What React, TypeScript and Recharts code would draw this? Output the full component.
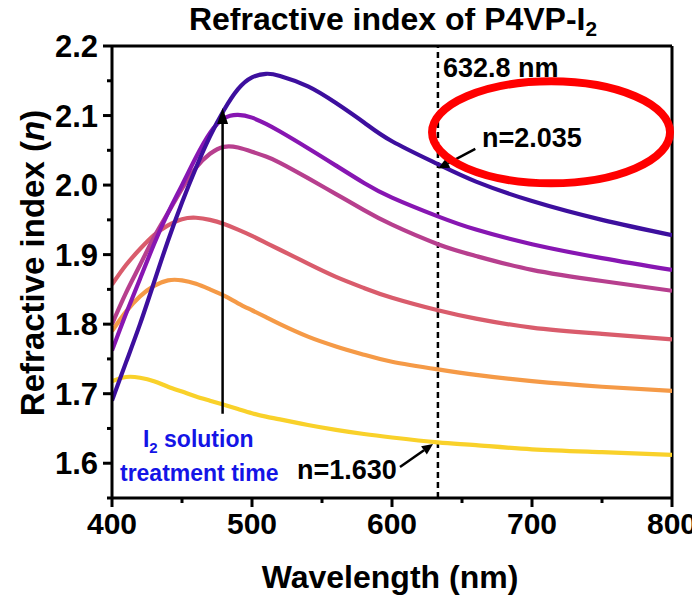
import React from 'react';
import { LineChart, Line, XAxis, YAxis, ReferenceLine, ReferenceDot, Label } from 'recharts';

const wavelengths = [400, 410, 420, 430, 440, 450, 460, 470, 480, 490, 500, 510, 520, 540, 560, 580, 600, 632.8, 660, 700, 750, 800];
const nYellow = [1.718, 1.724, 1.723, 1.718, 1.71, 1.703, 1.696, 1.69, 1.684, 1.678, 1.672, 1.667, 1.663, 1.655, 1.648, 1.642, 1.637, 1.63, 1.626, 1.62, 1.616, 1.612];
const nOrange = [1.79, 1.818, 1.84, 1.855, 1.863, 1.863, 1.858, 1.85, 1.841, 1.83, 1.82, 1.81, 1.8, 1.782, 1.768, 1.756, 1.746, 1.735, 1.727, 1.718, 1.71, 1.704];
const nCoral = [1.857, 1.885, 1.908, 1.928, 1.942, 1.951, 1.953, 1.95, 1.944, 1.936, 1.927, 1.917, 1.907, 1.887, 1.868, 1.852, 1.838, 1.82, 1.808, 1.795, 1.786, 1.778];
const nMagenta = [1.8, 1.845, 1.885, 1.925, 1.96, 1.995, 2.025, 2.045, 2.055, 2.054, 2.048, 2.041, 2.032, 2.01, 1.987, 1.964, 1.943, 1.915, 1.898, 1.878, 1.862, 1.848];
const nPurple = [1.762, 1.815, 1.865, 1.915, 1.96, 2.0, 2.04, 2.075, 2.096, 2.101, 2.097, 2.088, 2.077, 2.053, 2.028, 2.003, 1.982, 1.955, 1.936, 1.915, 1.895, 1.878];
const nIndigo = [1.69, 1.745, 1.8, 1.86, 1.92, 1.975, 2.025, 2.07, 2.108, 2.138, 2.155, 2.16, 2.157, 2.142, 2.118, 2.09, 2.063, 2.03, 2.005, 1.977, 1.95, 1.928];

const seriesKeys = ['yellow', 'orange', 'coral', 'magenta', 'purple', 'indigo'];
const seriesColors = ['#F9D12A', '#F59A47', '#D95C6C', '#B73F8E', '#8716B2', '#3D0F9E'];

const xTicks = [400, 450, 500, 550, 600, 650, 700, 750, 800];
const yTicks = [1.55, 1.6, 1.65, 1.7, 1.75, 1.8, 1.85, 1.9, 1.95, 2.0, 2.05, 2.1, 2.15, 2.2];

const data = wavelengths.map((w, i) => ({
  w,
  yellow: nYellow[i],
  orange: nOrange[i],
  coral: nCoral[i],
  magenta: nMagenta[i],
  purple: nPurple[i],
  indigo: nIndigo[i],
}));

const FONT = '"Liberation Sans", Arial, Helvetica, sans-serif';

const isMajorX = (v: number) => Math.abs(v % 100) < 1e-6;
const isMajorY = (v: number) => Math.abs(Math.round(v * 10) - v * 10) < 1e-6 && v > 1.56;

const XTick = (props: any) => {
  const { x, y, payload } = props;
  const v = payload.value;
  const major = isMajorX(v);
  return (
    <g>
      <line x1={x} x2={x} y1={y} y2={y + (major ? 9 : 5)} stroke="#000" strokeWidth={3} />
      {major && (
        <text x={x} y={y + 36} textAnchor="middle" fontFamily={FONT} fontWeight="bold" fontSize={30} fill="#000">
          {v}
        </text>
      )}
    </g>
  );
};

const YTick = (props: any) => {
  const { x, y, payload } = props;
  const v = payload.value;
  const major = isMajorY(v);
  return (
    <g>
      <line x1={x - (major ? 9 : 5)} x2={x} y1={y} y2={y} stroke="#000" strokeWidth={3} />
      {major && (
        <text x={x - 14} y={y + 11} textAnchor="end" fontFamily={FONT} fontWeight="bold" fontSize={31} fill="#000">
          {v.toFixed(1)}
        </text>
      )}
    </g>
  );
};

const XLabel = (props: any) => {
  const vb = props.viewBox;
  return (
    <text x={vb.x + vb.width / 2 - 2} y={vb.y + 90} textAnchor="middle" fontFamily={FONT} fontWeight="bold" fontSize={32} fill="#000">
      Wavelength (nm)
    </text>
  );
};

const YLabel = (props: any) => {
  const vb = props.viewBox;
  const cx = vb.x + 36;
  const cy = vb.y + vb.height / 2 - 9;
  return (
    <text x={cx} y={cy} transform={`rotate(-90 ${cx} ${cy})`} textAnchor="middle" fontFamily={FONT} fontWeight="bold" fontSize={33} fill="#000">
      Refractive index (<tspan fontStyle="italic">n</tspan>)
    </text>
  );
};

const arrowShape = (headLen: number, headHalf: number, width: number) => (p: any) => {
  const { x1, y1, x2, y2 } = p;
  const ang = Math.atan2(y2 - y1, x2 - x1);
  const bx = x2 - headLen * Math.cos(ang);
  const by = y2 - headLen * Math.sin(ang);
  const nx = -Math.sin(ang) * headHalf;
  const ny = Math.cos(ang) * headHalf;
  return (
    <g>
      <line x1={x1} y1={y1} x2={bx} y2={by} stroke="#000" strokeWidth={width} />
      <polygon points={`${x2},${y2} ${bx + nx},${by + ny} ${bx - nx},${by - ny}`} fill="#000" />
    </g>
  );
};

const textShape = (content: React.ReactNode, size: number, color: string) => (p: any) => (
  <text x={p.cx} y={p.cy} fontFamily={FONT} fontWeight="bold" fontSize={size} fill={color}>
    {content}
  </text>
);

const ellipseShape = (p: any) => (
  <ellipse cx={p.cx} cy={p.cy} rx={119} ry={51} fill="none" stroke="#FF0000" strokeWidth={8} />
);

export default function App() {
  return (
    <div style={{ position: 'relative', width: 692, height: 593 }}>
      <div
        style={{
          position: 'absolute',
          left: 105,
          width: 560,
          top: -4,
          textAlign: 'center',
          fontFamily: FONT,
          fontWeight: 'bold',
          fontSize: 32,
          lineHeight: '31px',
          color: '#000',
          whiteSpace: 'nowrap',
        }}
      >
        Refractive index of P4VP-I<sub style={{ fontSize: '0.65em', lineHeight: 0, verticalAlign: '-0.3em' }}>2</sub>
      </div>
      <LineChart width={692} height={593} data={data} margin={{ top: 38, right: 28, bottom: 0, left: 0 }}>
        <XAxis
          dataKey="w"
          type="number"
          domain={[400, 800]}
          ticks={xTicks}
          interval={0}
          tickSize={0}
          tickMargin={0}
          tick={<XTick />}
          height={103}
          axisLine={{ stroke: '#000', strokeWidth: 3 }}
          allowDataOverflow
        >
          <Label content={<XLabel />} />
        </XAxis>
        <YAxis
          type="number"
          domain={[1.55, 2.2]}
          ticks={yTicks}
          interval={0}
          tickSize={0}
          tickMargin={0}
          tick={<YTick />}
          width={104}
          axisLine={{ stroke: '#000', strokeWidth: 3 }}
          allowDataOverflow
        >
          <Label content={<YLabel />} />
        </YAxis>
        <ReferenceLine y={2.2} stroke="#000" strokeWidth={3} />
        <ReferenceLine x={800} stroke="#000" strokeWidth={3} />
        <ReferenceLine x={632.8} stroke="#000" strokeWidth={2.5} strokeDasharray="6 4" />
        {seriesKeys.map((k, i) => (
          <Line
            key={k}
            dataKey={k}
            type="natural"
            stroke={seriesColors[i]}
            strokeWidth={4.2}
            dot={false}
            isAnimationActive={false}
          />
        ))}
        <ReferenceLine segment={[{ x: 479, y: 1.671 }, { x: 479, y: 2.111 }]} shape={arrowShape(16, 5.5, 2.5)} />
        <ReferenceLine segment={[{ x: 605.7, y: 1.5946 }, { x: 629.3, y: 1.6276 }]} shape={arrowShape(11, 5, 2.5)} />
        <ReferenceLine segment={[{ x: 659.5, y: 2.052 }, { x: 633, y: 2.024 }]} shape={arrowShape(11, 5, 2.5)} />
        <ReferenceDot x={713.6} y={2.0759} r={1} shape={ellipseShape} ifOverflow="visible" />
        <ReferenceDot x={636.4} y={2.1555} r={1} shape={textShape('632.8 nm', 27, '#000')} ifOverflow="visible" />
        <ReferenceDot x={664.3} y={2.055} r={1} shape={textShape('n=2.035', 27, '#000')} ifOverflow="visible" />
        <ReferenceDot x={532.1} y={1.5773} r={1} shape={textShape('n=1.630', 27, '#000')} ifOverflow="visible" />
        <ReferenceDot
          x={422.1}
          y={1.6232}
          r={1}
          shape={textShape(<>I<tspan fontSize={15} dy={6}>2</tspan><tspan dy={-6}> solution</tspan></>, 23, '#1414E6')}
          ifOverflow="visible"
        />
        <ReferenceDot x={405.7} y={1.5745} r={1} shape={textShape('treatment time', 23, '#1414E6')} ifOverflow="visible" />
      </LineChart>
    </div>
  );
}
